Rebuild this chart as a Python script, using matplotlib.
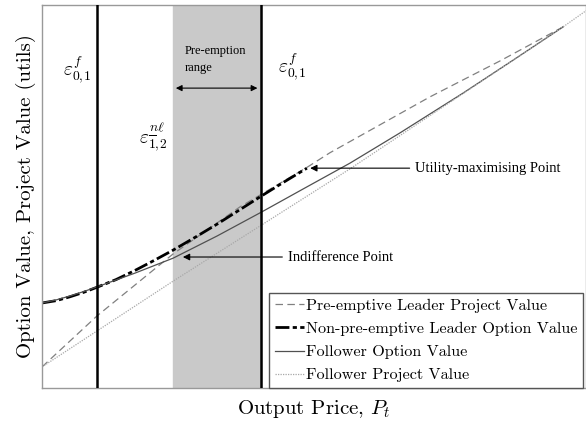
import matplotlib
matplotlib.use("Agg")
import matplotlib.pyplot as plt

plt.rcParams["mathtext.fontset"] = "cm"
plt.rcParams["font.family"] = ["cmr10", "DejaVu Serif"]
plt.rcParams["axes.formatter.use_mathtext"] = True

# output price (arbitrary units, 0-100)
leader_opt_x = [0, 2.6, 5.1, 7.7, 10.1, 13.6, 17.1, 20.6, 24.1, 28.1, 32.2, 36.2, 40.3, 44.5, 48.7]
leader_opt_y = [22.2, 22.8, 23.8, 25.0, 26.3, 28.3, 30.7, 33.3, 36.0, 39.3, 42.8, 46.4, 50.1, 53.8, 57.4]

follower_opt_x = [0, 2.6, 5.1, 7.7, 10.1, 17.1, 24.1, 32.2, 40.3, 48.3, 56.6, 65.8, 77.4, 86.6, 95.8]
follower_opt_y = [22.2, 23.0, 24.0, 25.2, 26.4, 30.0, 33.9, 39.7, 45.9, 52.2, 58.7, 66.6, 77.0, 85.6, 94.3]

leader_proj_x = [0, 10.1, 24.1, 36.4, 48.7, 52.9, 62.1, 71.3, 84.2, 95.8]
leader_proj_y = [5.5, 18.8, 35.0, 47.3, 57.6, 61.4, 68.7, 76.0, 85.4, 94.3]

follower_proj_x = [0, 24.1, 56.6, 95.8, 100]
follower_proj_y = [5.5, 27.9, 57.2, 94.3, 98.5]

eps_f = 10.1          # follower threshold
eps_nl = 24.1         # lower bound of pre-emption range
eps_f2 = 40.3         # upper threshold
utility_pt = (49.3, 57.4)
indiff_pt = (25.9, 34.2)

fig = plt.figure(figsize=(5.86, 4.21), dpi=100)
ax = fig.add_axes([42 / 586, 33 / 421, 544 / 586, 383 / 421])

ax.axvspan(eps_nl, eps_f2, color="#c9c9c9", zorder=0)
ax.axvline(eps_f, color="black", lw=1.8, zorder=3)
ax.axvline(eps_f2, color="black", lw=1.8, zorder=3)

ax.plot(leader_proj_x, leader_proj_y, color="#808080", lw=0.9, ls=(0, (6, 3.5)),
        label="Pre-emptive Leader Project Value")
ax.plot(leader_opt_x, leader_opt_y, color="black", lw=2.0, ls=(0, (5, 1.2, 1.5, 1.2)),
        label="Non-pre-emptive Leader Option Value")
ax.plot(follower_opt_x, follower_opt_y, color="#505050", lw=0.9,
        label="Follower Option Value")
ax.plot(follower_proj_x, follower_proj_y, color="#a8a8a8", lw=0.9, ls=(0, (1, 1)),
        label="Follower Project Value")

ax.set_xlim(0, 100)
ax.set_ylim(0, 100)
ax.set_xticks([])
ax.set_yticks([])
for s in ax.spines.values():
    s.set_color("#999999")
    s.set_linewidth(1.0)

ax.set_xlabel("Output Price, $P_t$", fontsize=15, labelpad=7)
ax.set_ylabel("Option Value, Project Value (utils)", fontsize=15, labelpad=4)

ax.text(6.4, 83.0, r"$\varepsilon^f_{0,\!1}$", fontsize=14, ha="center", va="center")
ax.text(46.0, 83.6, r"$\varepsilon^f_{0,\!1}$", fontsize=14, ha="center", va="center")
ax.text(20.4, 65.5, r"$\varepsilon^{n\ell}_{\overline{1},\!2}$", fontsize=14,
        ha="center", va="center")

ax.text(26.3, 89.5, "Pre-emption\nrange", fontsize=9, family="Liberation Serif",
        ha="left", va="top", linespacing=1.5)
ax.annotate("", xy=(24.6, 78.3), xytext=(39.6, 78.3),
            arrowprops=dict(arrowstyle="<|-|>", color="black", lw=0.8,
                            mutation_scale=9, shrinkA=0, shrinkB=0))

ax.annotate("Utility-maximising Point", xy=utility_pt, xytext=(68.6, utility_pt[1]),
            fontsize=10.5, family="Liberation Serif", va="center", ha="left",
            arrowprops=dict(arrowstyle="-|>", color="black", lw=0.8,
                            mutation_scale=10, shrinkA=2, shrinkB=0))
ax.annotate("Indifference Point", xy=indiff_pt, xytext=(45.2, indiff_pt[1]),
            fontsize=10.5, family="Liberation Serif", va="center", ha="left",
            arrowprops=dict(arrowstyle="-|>", color="black", lw=0.8,
                            mutation_scale=10, shrinkA=2, shrinkB=0))

leg = ax.legend(loc="lower left", bbox_to_anchor=((269 - 42) / 544, 0.0),
                borderaxespad=0, fontsize=11.6, frameon=True, fancybox=False,
                handlelength=1.8, handletextpad=0.15, labelspacing=0.55,
                borderpad=0.35)
leg.get_frame().set_edgecolor("#555555")
leg.get_frame().set_linewidth(1.0)
leg.get_frame().set_alpha(1)

fig.savefig("out.png", dpi=100)
